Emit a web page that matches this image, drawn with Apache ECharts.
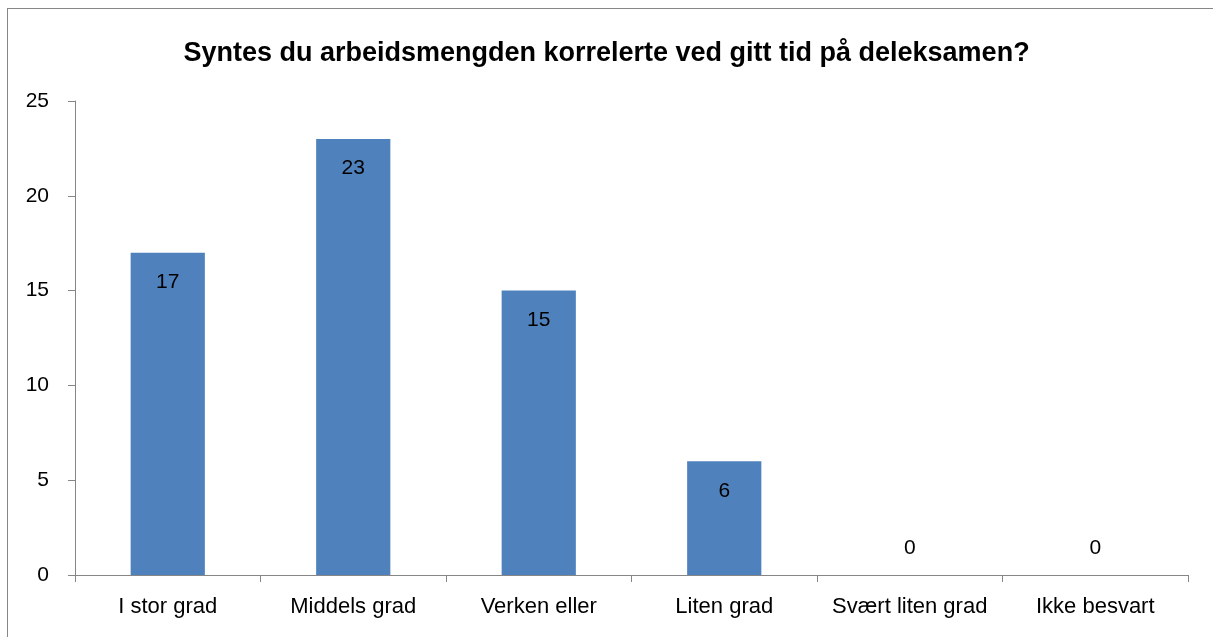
<!DOCTYPE html>
<html>
<head>
<meta charset="utf-8">
<script src="https://cdn.jsdelivr.net/npm/echarts@6/dist/echarts.min.js"></script>
<style>
  html, body { margin: 0; padding: 0; background: #fff; }
  #frame { position: absolute; left: 7px; top: 8px; width: 1230px; height: 660px; border: 1px solid #868686; box-sizing: border-box; }
  #chart { position: absolute; left: 0; top: 0; width: 1213px; height: 637px; }
</style>
</head>
<body>
<div id="frame"></div>
<div id="chart"></div>
<script>
// chart data
const categories = ['I stor grad', 'Middels grad', 'Verken eller', 'Liten grad', 'Svært liten grad', 'Ikke besvart'];
const answers = [17, 23, 15, 6, 0, 0];
const yTicks = { min: 0, max: 25, interval: 5 };

const fontFamily = '"Liberation Sans", "DejaVu Sans", sans-serif';

// zero bars get their label above the axis, like the original
const barData = answers.map(function(v) {
    if (v === 0) {
        return { value: v, label: { position: 'top', distance: 16 } };
    }
    return v;
});

let option = {
    animation: false,
    title: {
        left: 'center',
        top: 35,
        text: 'Syntes du arbeidsmengden korrelerte ved gitt tid på deleksamen?',
        textStyle: {
            fontFamily: fontFamily,
            fontWeight: 'bold',
            fontSize: 27,
            color: '#000'
        }
    },
    grid: {
        left: 75,
        right: 25,
        top: 101,
        bottom: 62,
        containLabel: false
    },
    xAxis: {
        type: 'category',
        data: categories,
        axisLine: { lineStyle: { color: '#868686', width: 1 } },
        axisTick: { show: true, alignWithLabel: false, length: 7, lineStyle: { color: '#868686' } },
        axisLabel: {
            color: '#000',
            fontFamily: fontFamily,
            fontSize: 22,
            margin: 21,
            interval: 0
        }
    },
    yAxis: {
        type: 'value',
        min: yTicks.min,
        max: yTicks.max,
        interval: yTicks.interval,
        splitLine: { show: false },
        axisLine: { show: true, lineStyle: { color: '#868686', width: 1 } },
        axisTick: { show: true, length: 7, lineStyle: { color: '#868686' } },
        axisLabel: {
            color: '#000',
            fontFamily: fontFamily,
            fontSize: 21,
            margin: 26
        }
    },
    series: [
        {
            type: 'bar',
            data: barData,
            barWidth: '40%',
            itemStyle: { color: '#4F81BD' },
            label: {
                show: true,
                position: 'insideTop',
                distance: 19,
                color: '#000',
                fontFamily: fontFamily,
                fontSize: 21
            }
        }
    ]
};

let chart = echarts.init(document.getElementById('chart'));
chart.setOption(option);
</script>
</body>
</html>
